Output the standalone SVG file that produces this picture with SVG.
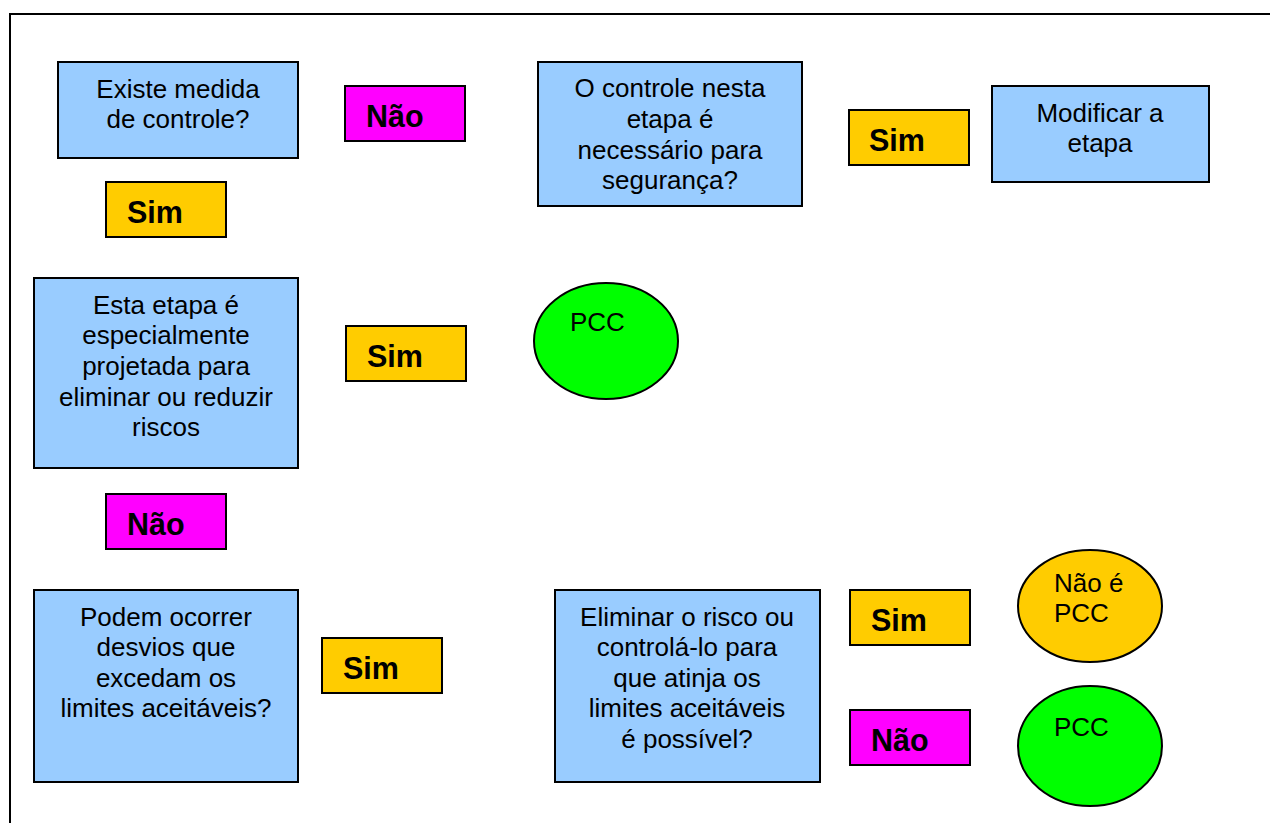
<svg xmlns="http://www.w3.org/2000/svg" width="1270" height="823" viewBox="0 0 1270 823">
<style>
.box{fill:#99CCFF;stroke:#000;stroke-width:2}
.sim{fill:#FFCC00;stroke:#000;stroke-width:2}
.nao{fill:#FF00FF;stroke:#000;stroke-width:2}
.pcc{fill:#00FF00;stroke:#000;stroke-width:2}
.npcc{fill:#FFCC00;stroke:#000;stroke-width:2}
.t{font-family:"Liberation Sans",Arial,sans-serif;font-size:26px;fill:#000}
.c{text-anchor:middle}
.b{font-family:"Liberation Sans",Arial,sans-serif;font-size:30.5px;font-weight:bold;fill:#000}
</style>
<rect width="1270" height="823" fill="#fff"/>
<path d="M10,823 V14 H1270" fill="none" stroke="#000" stroke-width="2"/>
<g id="connectors"></g>

<g id="q1">
<rect class="box" x="58" y="62" width="240" height="96"/>
<text class="t c" x="178" y="98">Existe medida</text>
<text class="t c" x="178" y="128">de controle?</text>
</g>
<g id="q1-nao">
<rect class="nao" x="345" y="86" width="120" height="55"/>
<text class="b" x="366" y="127">Não</text>
</g>
<g id="q1-sim">
<rect class="sim" x="106" y="182" width="120" height="55"/>
<text class="b" x="127" y="223">Sim</text>
</g>
<g id="q1b">
<rect class="box" x="538" y="62" width="264" height="144"/>
<text class="t c" x="670" y="97">O controle nesta</text>
<text class="t c" x="670" y="128">etapa é</text>
<text class="t c" x="670" y="159">necessário para</text>
<text class="t c" x="670" y="189">segurança?</text>
</g>
<g id="q1b-sim">
<rect class="sim" x="849" y="110" width="120" height="55"/>
<text class="b" x="869" y="151">Sim</text>
</g>
<g id="modificar">
<rect class="box" x="992" y="86" width="217" height="96"/>
<text class="t c" x="1100" y="122">Modificar a</text>
<text class="t c" x="1100" y="152">etapa</text>
</g>

<g id="q2">
<rect class="box" x="34" y="278" width="264" height="190"/>
<text class="t c" x="166" y="314">Esta etapa é</text>
<text class="t c" x="166" y="344">especialmente</text>
<text class="t c" x="166" y="375">projetada para</text>
<text class="t c" x="166" y="406">eliminar ou reduzir</text>
<text class="t c" x="166" y="436">riscos</text>
</g>
<g id="q2-sim">
<rect class="sim" x="346" y="326" width="120" height="55"/>
<text class="b" x="367" y="367">Sim</text>
</g>
<g id="pcc1">
<ellipse class="pcc" cx="606" cy="341" rx="72" ry="58"/>
<text class="t" x="570" y="331">PCC</text>
</g>
<g id="q2-nao">
<rect class="nao" x="106" y="494" width="120" height="55"/>
<text class="b" x="127" y="535">Não</text>
</g>

<g id="q3">
<rect class="box" x="34" y="590" width="264" height="192"/>
<text class="t c" x="166" y="626">Podem ocorrer</text>
<text class="t c" x="166" y="656">desvios que</text>
<text class="t c" x="166" y="687">excedam os</text>
<text class="t c" x="166" y="717">limites aceitáveis?</text>
</g>
<g id="q3-sim">
<rect class="sim" x="322" y="638" width="120" height="55"/>
<text class="b" x="343" y="679">Sim</text>
</g>
<g id="q4">
<rect class="box" x="555" y="590" width="265" height="192"/>
<text class="t c" x="687" y="626">Eliminar o risco ou</text>
<text class="t c" x="687" y="656">controlá-lo para</text>
<text class="t c" x="687" y="687">que atinja os</text>
<text class="t c" x="687" y="717">limites aceitáveis</text>
<text class="t c" x="687" y="748">é possível?</text>
</g>
<g id="q4-sim">
<rect class="sim" x="850" y="590" width="120" height="55"/>
<text class="b" x="871" y="631">Sim</text>
</g>
<g id="q4-nao">
<rect class="nao" x="850" y="710" width="120" height="55"/>
<text class="b" x="871" y="751">Não</text>
</g>
<g id="nao-pcc">
<ellipse class="npcc" cx="1090" cy="606" rx="72" ry="56"/>
<text class="t" x="1054" y="592">Não é</text>
<text class="t" x="1054" y="622">PCC</text>
</g>
<g id="pcc2">
<ellipse class="pcc" cx="1090" cy="746" rx="72" ry="60"/>
<text class="t" x="1054" y="736">PCC</text>
</g>
</svg>
